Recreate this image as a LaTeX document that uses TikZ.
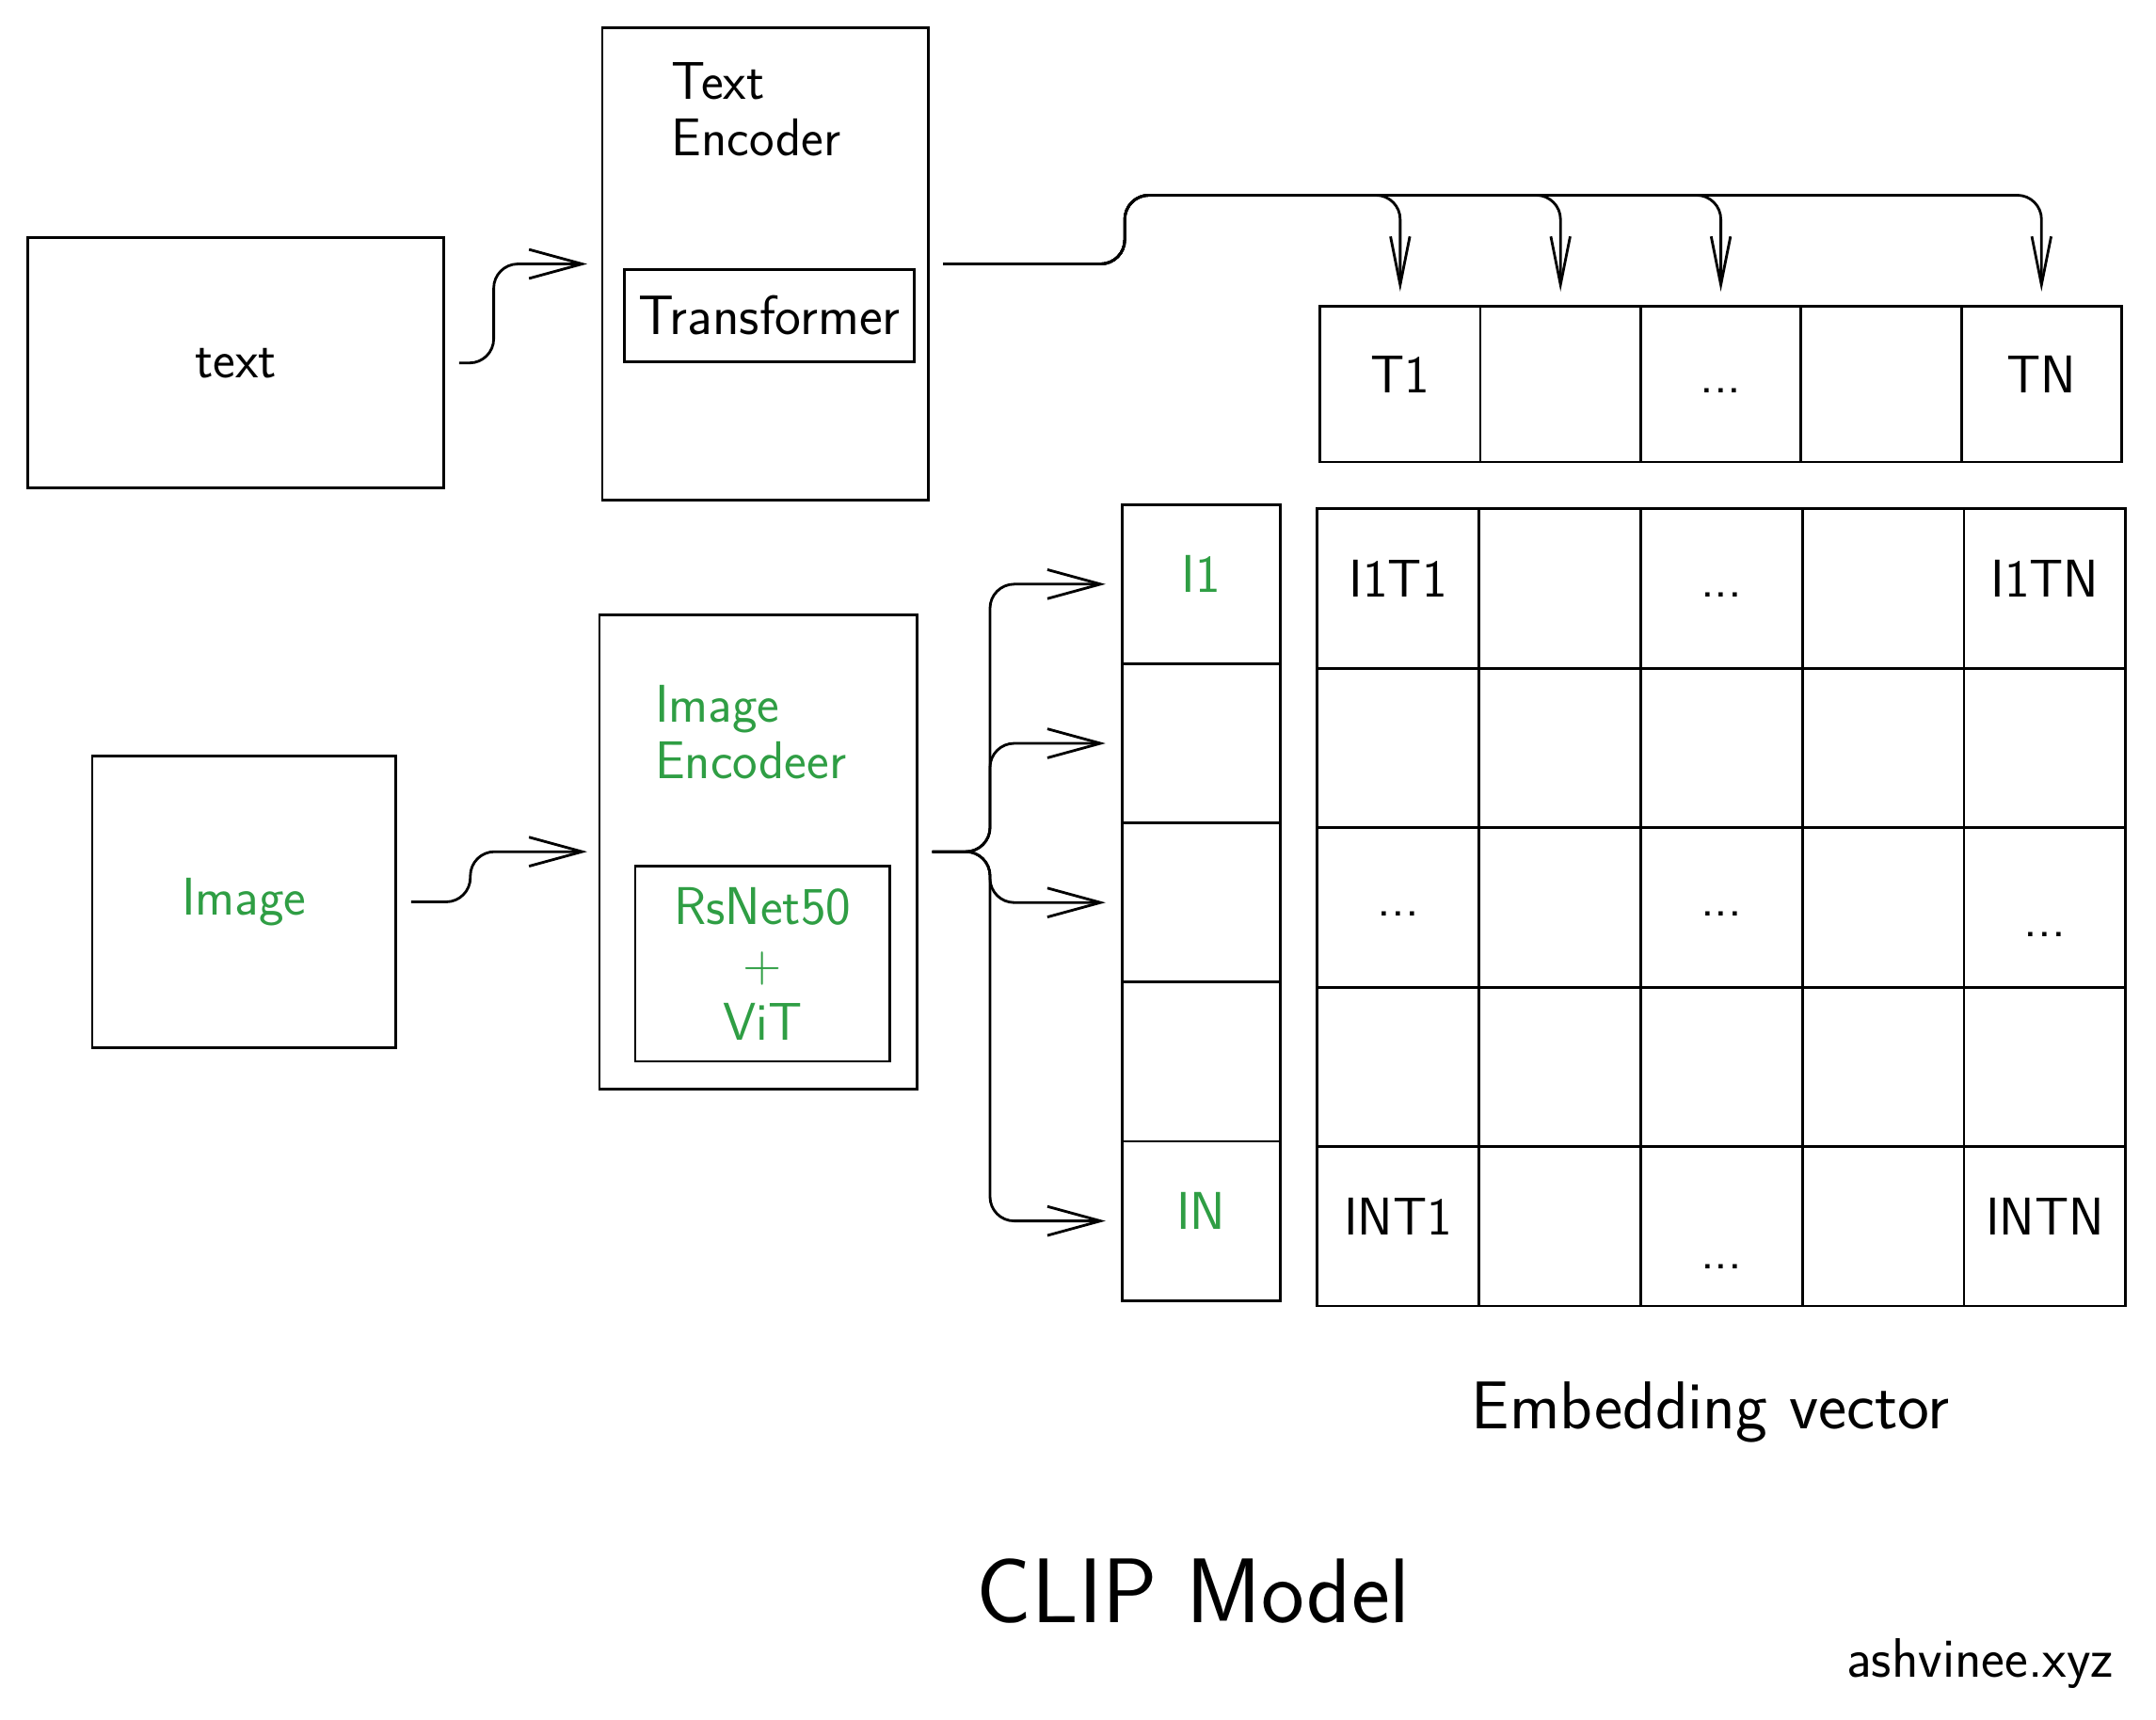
\documentclass[tikz,border=0pt]{standalone}
\usepackage{fontspec}
\usepackage{tikz}
\usetikzlibrary{arrows.meta,calc,positioning}
\definecolor{clipgreen}{HTML}{2F9E44}
\newcommand\lblfont{\sffamily\fontsize{22}{23.5}\selectfont}
\newcommand\smfont{\sffamily\fontsize{23}{26}\selectfont}
\tikzset{
  box/.style={draw, line width=1.1pt, inner sep=0pt, font=\lblfont},
  txt/.style={inner sep=0pt, font=\lblfont},
  lbl/.style={inner sep=0pt, font=\lblfont, text height=0.7em, text depth=0pt},
  icell/.style={draw, line width=1.1pt, minimum width=2.30cm, minimum height=2.316cm},
  tcell/.style={draw, line width=1.1pt, minimum width=2.332cm, minimum height=2.26cm},
  gcell/.style={draw, line width=1.1pt, minimum width=2.352cm, minimum height=2.32cm},
  arr/.style={line width=1.1pt, rounded corners=10pt, -{Straight Barb[length=22pt, width=12pt]}},
  tarr/.style={line width=1.1pt, rounded corners=10pt, -{Straight Barb[length=20pt, width=8pt]}},
}
\begin{document}
\begin{tikzpicture}[x=0.02cm, y=-0.02cm]
  \useasboundingbox (0,0) rectangle (1568,1251);
  %%Inputs
  \node[box, minimum width=6.06cm, minimum height=3.64cm] (txtin) at (171.5,264) {text};
  \node[box, text=clipgreen, minimum width=4.42cm, minimum height=4.24cm] (imgin) at (177.5,656) {Image};
  %%Encoders
  \node[box, minimum width=4.74cm, minimum height=6.88cm] (tenc) at (556.5,192) {};
  \node[txt, anchor=north west, align=left] (tenclbl) at (488,45) {Text\\Encoder};
  \node[box, minimum width=4.22cm, minimum height=1.34cm, font=\smfont] (trans) at (559.5,229.5) {Transformer};
  \node[box, minimum width=4.62cm, minimum height=6.90cm] (ienc) at (551.5,619.5) {};
  \node[txt, text=clipgreen, anchor=north west, align=left] (ienclbl) at (476,498) {Image\\Encodeer};
  \node[box, text=clipgreen, align=center, minimum width=3.70cm, minimum height=2.84cm,
        font=\sffamily\fontsize{22}{24}\selectfont] (resnet) at (554.5,701) {RsNet50\\+\\ViT};
  %%Embedding cells
  \foreach \k in {1,...,5}
    \node[icell] (i\k) at (873.5,{309.1+115.8*\k}) {};
  \foreach \k in {1,...,5}
    \node[tcell] (t\k) at ({901.7+116.6*\k},279.5) {};
  \foreach \r in {1,...,5}
    \foreach \c in {1,...,5}
      \node[gcell] (g\r\c) at ({899.2+117.6*\c},{312+116*\r}) {};
  %%Labels
  \node[lbl, text=clipgreen] (li1) at (i1) {I1};
  \node[lbl, text=clipgreen] (li5) at (i5) {IN};
  \node[lbl] (lt1) at (t1) {T1};
  \node[lbl] (lt3) at (t3) {...};
  \node[lbl] (lt5) at (t5) {TN};
  \node[lbl] (lg11) at (g11) {I1T1};
  \node[lbl] (lg13) at (g13) {...};
  \node[lbl] (lg15) at (g15) {I1TN};
  \node[lbl] (lg31) at (g31) {...};
  \node[lbl] (lg33) at (g33) {...};
  \node[lbl] (lg35) at ($(g35)+(0,15)$) {...};
  \node[lbl] (lg51) at (g51) {INT1};
  \node[lbl] (lg53) at ($(g53)+(0,25)$) {...};
  \node[lbl] (lg55) at (g55) {INTN};
  %%Connectors
  \coordinate (tbus) at (818,142);
  \coordinate (ibus) at (720,619.5);
  \draw[arr] ($(txtin.east)+(10,0)$) -| ($(tenc.west)+(-78,0)$) -- ($(tenc.west)+(-10,0)$);
  \draw[arr] ($(imgin.east)+(10,0)$) -| ($(ienc.west)+(-93,0)$) -- ($(ienc.west)+(-8,0)$);
  \foreach \k in {1,2,3,5}
    \draw[arr] ($(ienc.east)+(10,0)$) -| (ibus |- i\k.west) -- ($(i\k.west)+(-11,0)$);
  \foreach \k in {1,2,3,5}
    \draw[tarr] ($(tenc.east)+(10,0)$) -| (tbus) -| ($(t\k.north)+(0,-10)$);
  %%Captions
  \node[font=\sffamily\fontsize{28}{32}\selectfont] (embed) at (1244,1027) {Embedding vector};
  \node[font=\sffamily\fontsize{38}{44}\selectfont] (title) at (868,1157) {CLIP Model};
  \node[font=\sffamily\fontsize{23}{26}\selectfont] (site) at (1440,1210) {ashvinee.xyz};
\end{tikzpicture}
\end{document}
